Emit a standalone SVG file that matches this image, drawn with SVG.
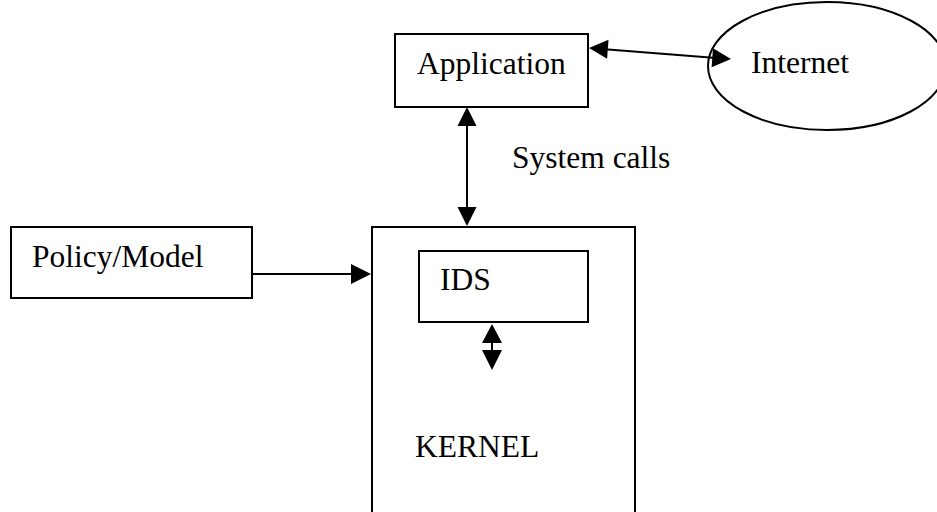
<svg xmlns="http://www.w3.org/2000/svg" width="937" height="512" viewBox="0 0 937 512">
  <style>
    .box { fill: #ffffff; stroke: #000000; stroke-width: 2; }
    .lbl { font-family: "Liberation Serif", "Times New Roman", serif; font-size: 31.5px; fill: #000000; }
    .wire { fill: none; stroke: #000000; stroke-width: 2; }
    .head { fill: #000000; stroke: none; }
  </style>
  <rect x="0" y="0" width="937" height="512" fill="#ffffff"/>

  <g id="internet">
    <ellipse class="box" cx="827" cy="66" rx="119" ry="64"/>
    <text class="lbl" x="751" y="73">Internet</text>
  </g>

  <g id="application">
    <rect class="box" x="395" y="34" width="193" height="73"/>
    <text class="lbl" x="417" y="74">Application</text>
  </g>

  <g id="policy-model">
    <rect class="box" x="11" y="227" width="241" height="71"/>
    <text class="lbl" x="32" y="267">Policy/Model</text>
  </g>

  <g id="kernel">
    <rect class="box" x="372" y="227" width="263" height="300"/>
    <text class="lbl" x="415" y="457">KERNEL</text>
  </g>

  <g id="ids">
    <rect class="box" x="419" y="251" width="169" height="71"/>
    <text class="lbl" x="440" y="290">IDS</text>
  </g>

  <g id="connectors">
    <!-- Application <-> Internet -->
    <line class="wire" x1="605" y1="49.3" x2="713" y2="57.7"/>
    <polygon class="head" points="589,48 608.5,39.8 607.1,58.7"/>
    <polygon class="head" points="731,59 711.6,67.2 713,48.3"/>

    <!-- Application <-> Kernel (system calls) -->
    <line class="wire" x1="467" y1="122" x2="467" y2="210"/>
    <polygon class="head" points="467,107 457.5,126 476.5,126"/>
    <polygon class="head" points="467,226 457.5,207 476.5,207"/>
    <text class="lbl" x="512" y="168">System calls</text>

    <!-- Policy/Model -> Kernel -->
    <line class="wire" x1="252" y1="274" x2="356" y2="274"/>
    <polygon class="head" points="371,274 351,264 351,284"/>

    <!-- IDS <-> Kernel -->
    <line class="wire" x1="492" y1="340" x2="492" y2="353"/>
    <polygon class="head" points="492,324 482,343 502,343"/>
    <polygon class="head" points="492,370 482,350 502,350"/>
  </g>
</svg>
